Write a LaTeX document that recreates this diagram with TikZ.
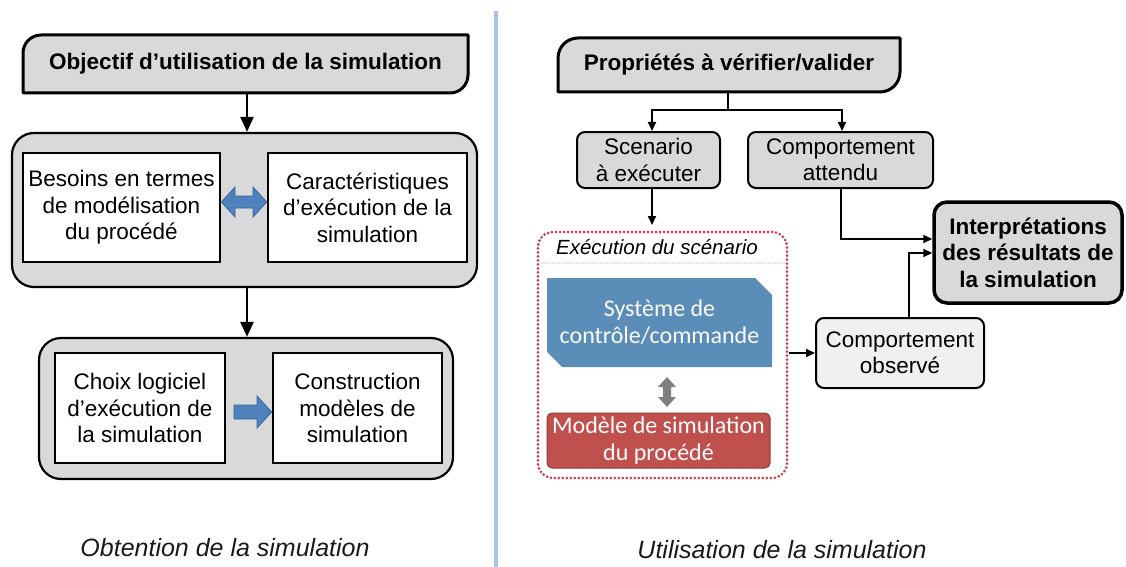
\documentclass[tikz,border=0pt]{standalone}
\usepackage{fontspec}
\setmainfont{Liberation Sans}
\newfontfamily\carl{Carlito}
\usetikzlibrary{arrows.meta,calc}
\definecolor{boxgray}{HTML}{D9D9D9}
\definecolor{lightgray}{HTML}{F0F0F0}
\definecolor{arrowblue}{HTML}{4F81BD}
\definecolor{arrowblueline}{HTML}{3A66A0}
\definecolor{sysblue}{HTML}{5A8DB8}
\definecolor{modred}{HTML}{C0504D}
\definecolor{modredline}{HTML}{8C3A38}
\definecolor{execred}{HTML}{D03C48}
\definecolor{divblue}{HTML}{A9C6E8}
\definecolor{graydark}{HTML}{7F7F7F}
\begin{document}
\begin{tikzpicture}[x=1pt,y=-1pt,
  txt/.style={font=\fontsize{22.5}{26.5}\selectfont, align=center, text=black, inner sep=0pt},
  btxt/.style={font=\bfseries\fontsize{22.5}{26.5}\selectfont, align=center, text=black, inner sep=0pt},
  whitebox/.style={txt, draw, line width=2.5pt, fill=white},
  graybox/.style={txt, draw, line width=2pt, fill=boxgray, rounded corners=8pt},
  groupbox/.style={draw, line width=2.2pt, fill=boxgray, rounded corners=22pt, inner sep=0pt},
  tabline/.style={draw, line width=3pt, fill=boxgray, line join=round},
  bigarrow/.style={-{Triangle[length=15pt,width=13pt]}, line width=2.2pt},
  smallarrow/.style={-{Triangle[length=9pt,width=8pt]}, line width=2pt},
  blockarrow/.style={fill=arrowblue, draw=arrowblueline, line width=0.8pt},
  caption/.style={font=\itshape\fontsize{25}{29}\selectfont, text=black!90, inner sep=0pt},
  carltxt/.style={font=\carl\fontsize{24}{27}\selectfont, align=center, text=white, inner sep=0pt}
]
\useasboundingbox (0,0) rectangle (1126,567);

% ---------- divider ----------
\draw[divblue, line width=4pt] (496,11) -- (496,567);

% ---------- LEFT PANEL ----------
\draw[tabline] (23,93) -- (23,53) .. controls (23,43.1) and (31.1,35) .. (41,35) -- (468,35) -- (468,75) .. controls (468,84.9) and (459.9,93) .. (450,93) -- cycle;
\node[btxt, minimum width=445pt, minimum height=58pt] (obj) at (245.5,64) {Objectif d’utilisation de la simulation};

\node[groupbox, minimum width=465pt, minimum height=154pt] (g1) at (244.5,210) {};
\node[whitebox, minimum width=197pt, minimum height=109pt] (b1) at (121.5,207.5) {Besoins en termes\\de modélisation\\du procédé};
\node[whitebox, minimum width=199pt, minimum height=109pt] (b2) at (367.5,207.5) {Caractéristiques\\d’exécution de la\\simulation};
\draw[blockarrow] (b1.east |- 0,202) -- (235,187) -- (235,196) -- (253,196) -- (253,187) -- (b2.west |- 0,202) -- (253,217) -- (253,208) -- (235,208) -- (235,217) -- cycle;

\node[groupbox, minimum width=414pt, minimum height=141pt] (g2) at (246,408.5) {};
\node[whitebox, minimum width=170pt, minimum height=110pt] (c1) at (140,408) {Choix logiciel\\d'exécution de\\la simulation};
\node[whitebox, minimum width=169pt, minimum height=110pt] (c2) at (357.5,408) {Construction\\modèles de\\simulation};
\draw[blockarrow] (234,405) -- (257,405) -- (257,396) -- (c2.west |- 0,412) -- (257,428) -- (257,419) -- (234,419) -- cycle;

\draw[bigarrow] (obj.south -| 247,0) -- (g1.north -| 247,0);
\draw[bigarrow] (g1.south -| 247,0) -- (g2.north -| 247,0);

\node[caption] (cap1) at (225,548) {Obtention de la simulation};

% ---------- RIGHT PANEL ----------
\draw[tabline] (558,92) -- (558,58) .. controls (558,47) and (567,38) .. (578,38) -- (900,38) -- (900,72) .. controls (900,83) and (891,92) .. (880,92) -- cycle;
\node[btxt, minimum width=342pt, minimum height=54pt] (prop) at (729,65) {Propriétés à vérifier/valider};

\node[graybox, minimum width=143pt, minimum height=56pt] (scen) at (648.5,160) {Scenario\\à exécuter};
\node[graybox, minimum width=185pt, minimum height=56pt] (att) at (840.5,160) {Comportement\\attendu};

\coordinate (split) at (728,110);
\draw[line width=2pt] (prop.south -| split) -- (split);
\draw[smallarrow] (split) -| (652,0 |- scen.north);
\draw[smallarrow] (split) -| (842,0 |- att.north);

% execution box
\node[draw=execred, dash pattern=on 0pt off 4pt, line cap=round, line width=3pt, rounded corners=15pt, minimum width=249pt, minimum height=246pt, inner sep=0pt] (exec) at (662.5,355) {};
\node[font=\itshape\fontsize{20.5}{24}\selectfont, inner sep=0pt] (exectitle) at (657,247) {Exécution du scénario};
\draw[execred!35, dash pattern=on 0pt off 3pt, line cap=round, line width=1.8pt] (541,263) -- (784,263);

\draw[smallarrow] (scen.south -| 652,0) -- (652,225);

% system box
\fill[sysblue] (547,278) -- (755,278) -- (772,295) -- (772,367) -- (562,367) -- (547,352) -- cycle;
\node[carltxt, minimum width=225pt, minimum height=89pt] (sys) at (659.5,322.5) {Système de\\contrôle/commande};

% gray double arrow
\fill[graydark] (667,377) -- (676,387) -- (671,387) -- (671,397) -- (676,397) -- (667,407) -- (658,397) -- (663,397) -- (663,387) -- (658,387) -- cycle;

\node[carltxt, draw=modredline, line width=1pt, fill=modred, rounded corners=5pt, minimum width=223pt, minimum height=55pt] (mod) at (658.5,440.5) {Modèle de simulation\\du procédé};

% observed / interpretation
\node[graybox, fill=lightgray, minimum width=168pt, minimum height=70pt] (obs) at (900,353) {Comportement\\observé};
\node[btxt, draw, line width=3.5pt, fill=boxgray, rounded corners=13pt, minimum width=188pt, minimum height=101pt] (interp) at (1028,252.5) {Interprétations\\des résultats de\\la simulation};

\draw[smallarrow] (exec.east |- obs.west) -- (obs.west);
\coordinate (ya) at (0,239);
\coordinate (yb) at (0,253);
\draw[smallarrow] (att.south) |- (interp.west |- ya);
\draw[smallarrow] (obs.north -| 909,0) |- (interp.west |- yb);

\node[caption] (cap2) at (782,550) {Utilisation de la simulation};
\end{tikzpicture}
\end{document}
